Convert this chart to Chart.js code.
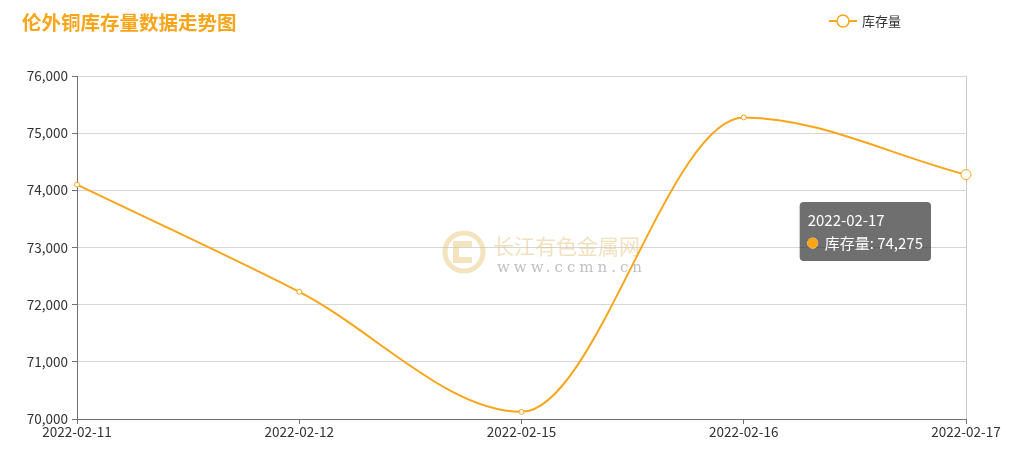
<!DOCTYPE html>
<html>
<head>
<meta charset="utf-8">
<script src="https://cdn.jsdelivr.net/npm/chart.js@4"></script>
<style>
  html, body { margin: 0; padding: 0; background: #fff; }
  #wrap { width: 1011px; height: 458px; position: relative; }
</style>
</head>
<body>
<div id="wrap"><canvas id="c"></canvas></div>
<script>
// data
const dates = ['2022-02-11', '2022-02-12', '2022-02-15', '2022-02-16', '2022-02-17']
const stock = [74100, 72225, 70125, 75275, 74275]
const seriesName = '库存量'
const chartTitle = '伦外铜库存量数据走势图'

const ORANGE = '#f9a51a'
const FONT = "'Noto Sans CJK SC', 'Noto Sans', sans-serif"

// title, legend and watermark are drawn straight on the canvas
const headerPlugin = {
  id: 'header',
  beforeDatasetsDraw(chart) {
    const ctx = chart.ctx
    ctx.save()
    // watermark logo
    const cx = 464, cy = 252
    ctx.strokeStyle = 'rgba(232, 200, 128, 0.5)'
    ctx.lineWidth = 5
    ctx.beginPath()
    ctx.arc(cx, cy, 19, 0, Math.PI * 2)
    ctx.stroke()
    ctx.lineWidth = 6
    ctx.beginPath()
    ctx.moveTo(cx + 8, cy - 8)
    ctx.lineTo(cx - 8, cy - 8)
    ctx.lineTo(cx - 8, cy + 8)
    ctx.lineTo(cx + 8, cy + 8)
    ctx.stroke()
    // watermark text
    ctx.fillStyle = 'rgba(228, 196, 128, 0.5)'
    ctx.font = "21px " + FONT
    ctx.textBaseline = 'middle'
    ctx.fillText('长江有色金属网', 493, 246)
    ctx.fillStyle = 'rgba(130, 130, 130, 0.5)'
    ctx.font = "15px 'DejaVu Serif', serif"
    ctx.letterSpacing = '4px'
    ctx.fillText('www.ccmn.cn', 497, 268)
    ctx.restore()
  },
  afterDraw(chart) {
    const ctx = chart.ctx
    ctx.save()
    ctx.textBaseline = 'middle'
    ctx.fillStyle = ORANGE
    ctx.font = "bold 19.5px " + FONT
    ctx.fillText(chartTitle, 22, 23)
    // legend: line with hollow circle
    ctx.strokeStyle = ORANGE
    ctx.lineWidth = 2
    ctx.beginPath()
    ctx.moveTo(829, 21)
    ctx.lineTo(857, 21)
    ctx.stroke()
    ctx.beginPath()
    ctx.arc(843, 21, 6, 0, Math.PI * 2)
    ctx.fillStyle = '#fff'
    ctx.fill()
    ctx.lineWidth = 1.5
    ctx.stroke()
    ctx.fillStyle = '#333'
    ctx.font = "13px " + FONT
    ctx.fillText(seriesName, 862, 21)
    ctx.restore()
  }
}

Chart.Tooltip.positioners.leftOfPoint = function(items) {
  if (!items.length) return false
  const el = items[0].element
  return { x: el.x - 35, y: el.y + 57, xAlign: 'right', yAlign: 'center' }
}

const ctx = document.getElementById('c').getContext('2d')
const chart = new Chart(ctx, {
  type: 'line',
  data: {
    labels: dates,
    datasets: [{
      label: seriesName,
      data: stock,
      borderColor: ORANGE,
      borderWidth: 2,
      cubicInterpolationMode: 'monotone',
      pointRadius: 2.5,
      pointBorderWidth: 1,
      pointBackgroundColor: '#fff',
      pointBorderColor: ORANGE,
      pointHoverRadius: 5,
      pointHoverBorderWidth: 1,
      pointHoverBackgroundColor: '#fff',
      pointHoverBorderColor: ORANGE
    }]
  },
  options: {
    responsive: true,
    maintainAspectRatio: false,
    animation: false,
    events: [],
    layout: { padding: { top: 76, right: 45, bottom: 0, left: 0 } },
    scales: {
      x: {
        offset: false,
        afterFit(scale) { scale.height = 39 },
        border: { color: '#6e7079', width: 1 },
        grid: {
          color: (c) => c.index === dates.length - 1 ? '#cccccc' : 'rgba(0,0,0,0)',
          tickColor: '#6e7079',
          tickLength: 5
        },
        ticks: {
          color: '#333',
          font: { family: FONT, size: 13.5 },
          padding: 0,
          maxRotation: 0,
          autoSkip: false
        }
      },
      y: {
        min: 70000,
        max: 76000,
        afterFit(scale) { scale.width = 77 },
        border: { color: '#6e7079', width: 1 },
        grid: {
          color: '#d6d6d6',
          tickColor: '#6e7079',
          tickLength: 5
        },
        ticks: {
          stepSize: 1000,
          color: '#333',
          font: { family: FONT, size: 13.5 },
          padding: 4
        }
      }
    },
    plugins: {
      legend: { display: false },
      title: { display: false },
      tooltip: {
        position: 'leftOfPoint',
        backgroundColor: 'rgba(50, 50, 50, 0.7)',
        titleColor: '#fff',
        bodyColor: '#fff',
        titleFont: { family: FONT, size: 15, weight: 'normal' },
        bodyFont: { family: FONT, size: 15 },
        padding: { top: 9, bottom: 9, left: 8, right: 8 },
        titleMarginBottom: 5,
        cornerRadius: 4,
        caretSize: 0,
        caretPadding: 0,
        usePointStyle: true,
        boxWidth: 10,
        boxHeight: 10,
        boxPadding: 5,
        callbacks: {
          label: (c) => c.dataset.label + ': ' + c.parsed.y.toLocaleString('en-US'),
          labelPointStyle: () => ({ pointStyle: 'circle', rotation: 0 }),
          labelColor: () => ({ borderColor: ORANGE, backgroundColor: ORANGE })
        }
      }
    }
  },
  plugins: [headerPlugin]
})

const active = [{ datasetIndex: 0, index: dates.length - 1 }]
chart.setActiveElements(active)
chart.tooltip.setActiveElements(active, { x: 0, y: 0 })
chart.update()
</script>
</body>
</html>
